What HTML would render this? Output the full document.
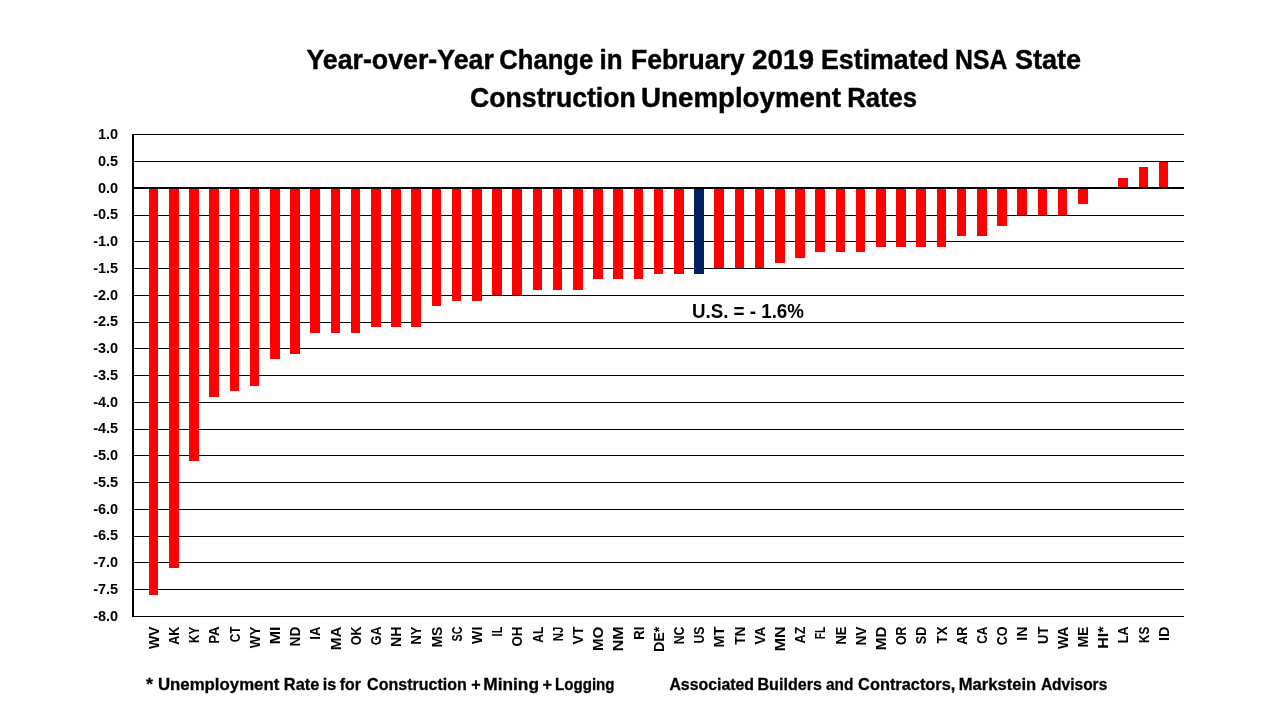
<!DOCTYPE html>
<html><head><meta charset="utf-8"><style>
html,body{margin:0;padding:0;background:#fff;}
body{width:1280px;height:720px;position:relative;overflow:hidden;}
svg{position:absolute;left:0;top:0;will-change:transform;}
rect{shape-rendering:crispEdges;}
text{font-family:"Liberation Sans",sans-serif;font-weight:bold;fill:#000;white-space:pre;}
</style></head><body>
<svg width="1280" height="720" viewBox="0 0 1280 720">
<g fill="#000"><rect x="134" y="134" width="1050" height="1"/><rect x="134" y="161" width="1050" height="1"/><rect x="134" y="215" width="1050" height="1"/><rect x="134" y="241" width="1050" height="1"/><rect x="134" y="268" width="1050" height="1"/><rect x="134" y="295" width="1050" height="1"/><rect x="134" y="322" width="1050" height="1"/><rect x="134" y="348" width="1050" height="1"/><rect x="134" y="375" width="1050" height="1"/><rect x="134" y="402" width="1050" height="1"/><rect x="134" y="429" width="1050" height="1"/><rect x="134" y="455" width="1050" height="1"/><rect x="134" y="482" width="1050" height="1"/><rect x="134" y="509" width="1050" height="1"/><rect x="134" y="536" width="1050" height="1"/><rect x="134" y="562" width="1050" height="1"/><rect x="134" y="589" width="1050" height="1"/><rect x="134" y="616" width="1050" height="1"/><rect x="149" y="188" width="9" height="407" fill="#FF0000"/><rect x="169" y="188" width="10" height="380" fill="#FF0000"/><rect x="189" y="188" width="10" height="273" fill="#FF0000"/><rect x="209" y="188" width="10" height="209" fill="#FF0000"/><rect x="230" y="188" width="9" height="203" fill="#FF0000"/><rect x="250" y="188" width="9" height="198" fill="#FF0000"/><rect x="270" y="188" width="10" height="171" fill="#FF0000"/><rect x="290" y="188" width="10" height="166" fill="#FF0000"/><rect x="310" y="188" width="10" height="145" fill="#FF0000"/><rect x="331" y="188" width="9" height="145" fill="#FF0000"/><rect x="351" y="188" width="9" height="145" fill="#FF0000"/><rect x="371" y="188" width="10" height="139" fill="#FF0000"/><rect x="391" y="188" width="10" height="139" fill="#FF0000"/><rect x="411" y="188" width="10" height="139" fill="#FF0000"/><rect x="432" y="188" width="9" height="118" fill="#FF0000"/><rect x="452" y="188" width="9" height="113" fill="#FF0000"/><rect x="472" y="188" width="10" height="113" fill="#FF0000"/><rect x="492" y="188" width="10" height="107" fill="#FF0000"/><rect x="512" y="188" width="10" height="107" fill="#FF0000"/><rect x="533" y="188" width="9" height="102" fill="#FF0000"/><rect x="553" y="188" width="9" height="102" fill="#FF0000"/><rect x="573" y="188" width="10" height="102" fill="#FF0000"/><rect x="593" y="188" width="10" height="91" fill="#FF0000"/><rect x="613" y="188" width="10" height="91" fill="#FF0000"/><rect x="634" y="188" width="9" height="91" fill="#FF0000"/><rect x="654" y="188" width="9" height="86" fill="#FF0000"/><rect x="674" y="188" width="10" height="86" fill="#FF0000"/><rect x="694" y="188" width="10" height="86" fill="#002060"/><rect x="714" y="188" width="10" height="80" fill="#FF0000"/><rect x="735" y="188" width="9" height="80" fill="#FF0000"/><rect x="755" y="188" width="9" height="80" fill="#FF0000"/><rect x="775" y="188" width="10" height="75" fill="#FF0000"/><rect x="795" y="188" width="10" height="70" fill="#FF0000"/><rect x="815" y="188" width="10" height="64" fill="#FF0000"/><rect x="836" y="188" width="9" height="64" fill="#FF0000"/><rect x="856" y="188" width="9" height="64" fill="#FF0000"/><rect x="876" y="188" width="10" height="59" fill="#FF0000"/><rect x="896" y="188" width="10" height="59" fill="#FF0000"/><rect x="916" y="188" width="10" height="59" fill="#FF0000"/><rect x="937" y="188" width="9" height="59" fill="#FF0000"/><rect x="957" y="188" width="9" height="48" fill="#FF0000"/><rect x="977" y="188" width="10" height="48" fill="#FF0000"/><rect x="997" y="188" width="10" height="38" fill="#FF0000"/><rect x="1017" y="188" width="10" height="27" fill="#FF0000"/><rect x="1038" y="188" width="9" height="27" fill="#FF0000"/><rect x="1058" y="188" width="9" height="27" fill="#FF0000"/><rect x="1078" y="188" width="10" height="16" fill="#FF0000"/><rect x="1118" y="178" width="10" height="10" fill="#FF0000"/><rect x="1139" y="167" width="9" height="21" fill="#FF0000"/><rect x="1159" y="162" width="9" height="26" fill="#FF0000"/><rect x="132" y="187" width="1052" height="2"/><rect x="132" y="134" width="2" height="483"/></g>
<g font-size="14.5"><text x="118.2" y="139.10" text-anchor="end">1.0</text><text x="118.2" y="165.85" text-anchor="end">0.5</text><text x="118.2" y="192.60" text-anchor="end">0.0</text><text x="118.2" y="219.35" text-anchor="end">-0.5</text><text x="118.2" y="246.10" text-anchor="end">-1.0</text><text x="118.2" y="272.85" text-anchor="end">-1.5</text><text x="118.2" y="299.60" text-anchor="end">-2.0</text><text x="118.2" y="326.35" text-anchor="end">-2.5</text><text x="118.2" y="353.10" text-anchor="end">-3.0</text><text x="118.2" y="379.85" text-anchor="end">-3.5</text><text x="118.2" y="406.60" text-anchor="end">-4.0</text><text x="118.2" y="433.35" text-anchor="end">-4.5</text><text x="118.2" y="460.10" text-anchor="end">-5.0</text><text x="118.2" y="486.85" text-anchor="end">-5.5</text><text x="118.2" y="513.60" text-anchor="end">-6.0</text><text x="118.2" y="540.35" text-anchor="end">-6.5</text><text x="118.2" y="567.10" text-anchor="end">-7.0</text><text x="118.2" y="593.85" text-anchor="end">-7.5</text><text x="118.2" y="620.60" text-anchor="end">-8.0</text><text transform="translate(158.70 626.6) rotate(-90) scale(0.963 1)" text-anchor="end">WV</text><text transform="translate(178.90 626.6) rotate(-90) scale(0.87 1)" text-anchor="end">AK</text><text transform="translate(199.10 626.6) rotate(-90) scale(0.809 1)" text-anchor="end">KY</text><text transform="translate(219.30 626.6) rotate(-90) scale(0.906 1)" text-anchor="end">PA</text><text transform="translate(239.50 626.6) rotate(-90) scale(0.809 1)" text-anchor="end">CT</text><text transform="translate(259.70 626.6) rotate(-90) scale(0.9243 1)" text-anchor="end">WY</text><text transform="translate(279.90 626.6) rotate(-90) scale(1.0957 1)" text-anchor="end">MI</text><text transform="translate(300.10 626.6) rotate(-90) scale(0.95 1)" text-anchor="end">ND</text><text transform="translate(320.30 626.6) rotate(-90) scale(0.9015 1)" text-anchor="end">IA</text><text transform="translate(340.50 626.6) rotate(-90) scale(1.0504 1)" text-anchor="end">MA</text><text transform="translate(360.70 626.6) rotate(-90) scale(0.8607 1)" text-anchor="end">OK</text><text transform="translate(380.90 626.6) rotate(-90) scale(0.8607 1)" text-anchor="end">GA</text><text transform="translate(401.10 626.6) rotate(-90) scale(0.97 1)" text-anchor="end">NH</text><text transform="translate(421.30 626.6) rotate(-90) scale(0.8936 1)" text-anchor="end">NY</text><text transform="translate(441.50 626.6) rotate(-90) scale(0.9627 1)" text-anchor="end">MS</text><text transform="translate(461.70 626.6) rotate(-90) scale(0.7402 1)" text-anchor="end">SC</text><text transform="translate(481.90 626.6) rotate(-90) scale(0.9761 1)" text-anchor="end">WI</text><text transform="translate(502.10 626.6) rotate(-90) scale(0.7586 1)" text-anchor="end">IL</text><text transform="translate(522.30 626.6) rotate(-90) scale(0.92 1)" text-anchor="end">OH</text><text transform="translate(542.50 626.6) rotate(-90) scale(0.8407 1)" text-anchor="end">AL</text><text transform="translate(562.70 626.6) rotate(-90) scale(0.7854 1)" text-anchor="end">NJ</text><text transform="translate(582.90 626.6) rotate(-90) scale(0.9621 1)" text-anchor="end">VT</text><text transform="translate(603.10 626.6) rotate(-90) scale(1.044 1)" text-anchor="end">MO</text><text transform="translate(623.30 626.6) rotate(-90) scale(1.0978 1)" text-anchor="end">NM</text><text transform="translate(643.50 626.6) rotate(-90) scale(0.9015 1)" text-anchor="end">RI</text><text transform="translate(663.70 626.6) rotate(-90) scale(0.9857 1)" text-anchor="end">DE*</text><text transform="translate(683.90 626.6) rotate(-90) scale(0.845 1)" text-anchor="end">NC</text><text transform="translate(704.10 626.6) rotate(-90) scale(0.8407 1)" text-anchor="end">US</text><text transform="translate(724.30 626.6) rotate(-90) scale(0.995 1)" text-anchor="end">MT</text><text transform="translate(744.50 626.6) rotate(-90) scale(0.9411 1)" text-anchor="end">TN</text><text transform="translate(764.70 626.6) rotate(-90) scale(0.9411 1)" text-anchor="end">VA</text><text transform="translate(784.90 626.6) rotate(-90) scale(1.0978 1)" text-anchor="end">MN</text><text transform="translate(805.10 626.6) rotate(-90) scale(0.8724 1)" text-anchor="end">AZ</text><text transform="translate(825.30 626.6) rotate(-90) scale(0.7109 1)" text-anchor="end">FL</text><text transform="translate(845.50 626.6) rotate(-90) scale(0.8936 1)" text-anchor="end">NE</text><text transform="translate(865.70 626.6) rotate(-90) scale(0.9411 1)" text-anchor="end">NV</text><text transform="translate(885.90 626.6) rotate(-90) scale(1.0504 1)" text-anchor="end">MD</text><text transform="translate(906.10 626.6) rotate(-90) scale(0.8441 1)" text-anchor="end">OR</text><text transform="translate(926.30 626.6) rotate(-90) scale(0.8724 1)" text-anchor="end">SD</text><text transform="translate(946.50 626.6) rotate(-90) scale(0.906 1)" text-anchor="end">TX</text><text transform="translate(966.70 626.6) rotate(-90) scale(0.87 1)" text-anchor="end">AR</text><text transform="translate(986.90 626.6) rotate(-90) scale(0.825 1)" text-anchor="end">CA</text><text transform="translate(1007.10 626.6) rotate(-90) scale(0.8607 1)" text-anchor="end">CO</text><text transform="translate(1027.30 626.6) rotate(-90) scale(0.9756 1)" text-anchor="end">IN</text><text transform="translate(1047.50 626.6) rotate(-90) scale(0.8936 1)" text-anchor="end">UT</text><text transform="translate(1067.70 626.6) rotate(-90) scale(0.963 1)" text-anchor="end">WA</text><text transform="translate(1087.90 626.6) rotate(-90) scale(0.9627 1)" text-anchor="end">ME</text><text transform="translate(1108.10 626.6) rotate(-90) scale(1.1051 1)" text-anchor="end">HI*</text><text transform="translate(1128.30 626.6) rotate(-90) scale(0.8583 1)" text-anchor="end">LA</text><text transform="translate(1148.50 626.6) rotate(-90) scale(0.809 1)" text-anchor="end">KS</text><text transform="translate(1168.70 626.6) rotate(-90) scale(0.9942 1)" text-anchor="end">ID</text></g>
<text transform="translate(306.40 69.1) scale(0.9560 1)" font-size="28" stroke="#000" stroke-width="0.45">Year-over-Year</text><text transform="translate(499.29 69.1) scale(0.9149 1)" font-size="28" stroke="#000" stroke-width="0.45">Change</text><text transform="translate(599.57 69.1) scale(0.9263 1)" font-size="28" stroke="#000" stroke-width="0.45">in</text><text transform="translate(630.95 69.1) scale(0.9484 1)" font-size="28" stroke="#000" stroke-width="0.45">February</text><text transform="translate(752.00 69.1) scale(0.9981 1)" font-size="28" stroke="#000" stroke-width="0.45">2019</text><text transform="translate(821.04 69.1) scale(0.9551 1)" font-size="28" stroke="#000" stroke-width="0.45">Estimated</text><text transform="translate(955.12 69.1) scale(0.8843 1)" font-size="28" stroke="#000" stroke-width="0.45">NSA</text><text transform="translate(1014.90 69.1) scale(0.9662 1)" font-size="28" stroke="#000" stroke-width="0.45">State</text><text transform="translate(470.05 106.8) scale(0.9518 1)" font-size="28" stroke="#000" stroke-width="0.45">Construction</text><text transform="translate(641.11 106.8) scale(0.9889 1)" font-size="28" stroke="#000" stroke-width="0.45">Unemployment</text><text transform="translate(847.19 106.8) scale(0.9145 1)" font-size="28" stroke="#000" stroke-width="0.45">Rates</text><text transform="translate(691.96 317.9) scale(0.9388 1)" font-size="19.976900000000004">U.S. = - 1.6%</text><text transform="translate(146.00 689.7) scale(1.0714 1)" font-size="16.8" stroke="#000" stroke-width="0.3">*</text><text transform="translate(157.90 689.7) scale(1.0014 1)" font-size="16.8" stroke="#000" stroke-width="0.3">Unemployment</text><text transform="translate(283.77 689.7) scale(0.9775 1)" font-size="16.8" stroke="#000" stroke-width="0.3">Rate</text><text transform="translate(322.78 689.7) scale(0.9674 1)" font-size="16.8" stroke="#000" stroke-width="0.3">is</text><text transform="translate(339.70 689.7) scale(0.9436 1)" font-size="16.8" stroke="#000" stroke-width="0.3">for</text><text transform="translate(367.10 689.7) scale(0.9553 1)" font-size="16.8" stroke="#000" stroke-width="0.3">Construction</text><text transform="translate(471.30 689.7) scale(0.9600 1)" font-size="16.8" stroke="#000" stroke-width="0.3">+</text><text transform="translate(483.27 689.7) scale(1.0312 1)" font-size="16.8" stroke="#000" stroke-width="0.3">Mining</text><text transform="translate(542.40 689.7) scale(0.9600 1)" font-size="16.8" stroke="#000" stroke-width="0.3">+</text><text transform="translate(555.10 689.7) scale(0.8981 1)" font-size="16.8" stroke="#000" stroke-width="0.3">Logging</text><text transform="translate(669.40 689.7) scale(0.9447 1)" font-size="16.8" stroke="#000" stroke-width="0.3">Associated</text><text transform="translate(757.44 689.7) scale(0.9604 1)" font-size="16.8" stroke="#000" stroke-width="0.3">Builders</text><text transform="translate(826.00 689.7) scale(0.9160 1)" font-size="16.8" stroke="#000" stroke-width="0.3">and</text><text transform="translate(858.10 689.7) scale(0.9737 1)" font-size="16.8" stroke="#000" stroke-width="0.3">Contractors,</text><text transform="translate(958.71 689.7) scale(0.9884 1)" font-size="16.8" stroke="#000" stroke-width="0.3">Markstein</text><text transform="translate(1040.90 689.7) scale(0.9247 1)" font-size="16.8" stroke="#000" stroke-width="0.3">Advisors</text>
</svg>
</body></html>
